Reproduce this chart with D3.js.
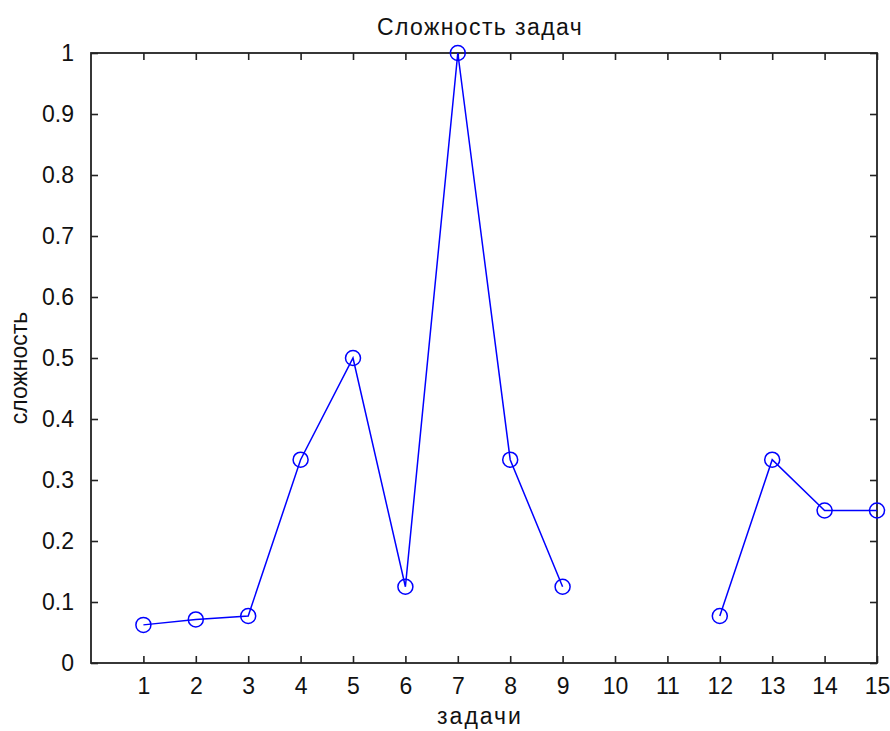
<!DOCTYPE html>
<meta charset='utf-8'>
<style>
  body { margin: 0; background: #fff; }
  text { font-family: 'Liberation Sans', Arial, sans-serif; fill: #111; }
</style>
<div id='chart'></div>
<script src='https://d3js.org/d3.v7.min.js'></script>
<script>

  // data (tasks 10 and 11 have no value)
  var tasks = [1, 2, 3, 4, 5, 6, 7, 8, 9, 10, 11, 12, 13, 14, 15];
  var difficulty = [0.0625, 0.0714, 0.077, 0.3333, 0.5, 0.125, 1, 0.3333, 0.125, null, null, 0.077, 0.3333, 0.25, 0.25];
  var yTicks = [0, 0.1, 0.2, 0.3, 0.4, 0.5, 0.6, 0.7, 0.8, 0.9, 1];
  var title = 'Сложность задач';
  var xLabel = 'задачи';
  var yLabel = 'сложность';

  var margin = {top: 53, right: 13, bottom: 68, left: 91},
      width = 890 - margin.left - margin.right,
      height = 731 - margin.top - margin.bottom;

  var svg = d3.select('#chart')
    .append('svg')
      .attr('width', 890)
      .attr('height', 731)
    .append('g')
      .attr('transform', 'translate(' + margin.left + ',' + margin.top + ')');

  var x = d3.scaleLinear().domain([0, 15]).range([0, width]);
  var y = d3.scaleLinear().domain([0, 1]).range([height, 0]);

  var fontSize = 23;
  var tickLen = 7;

  // axes box with inward ticks on all sides
  function styleAxis(g) {
    g.select('.domain').remove();
    g.selectAll('.tick line').attr('stroke', '#222').attr('stroke-width', 1.6);
    g.selectAll('.tick text').attr('font-size', fontSize).attr('font-family', 'Liberation Sans').attr('fill', '#111');
  }

  svg.append('g')
    .attr('transform', 'translate(0,' + height + ')')
    .call(d3.axisBottom(x).tickValues(tasks).tickSizeInner(-tickLen).tickSizeOuter(0).tickPadding(tickLen + 8))
    .call(styleAxis);
  svg.append('g')
    .call(d3.axisTop(x).tickValues(tasks).tickSizeInner(-tickLen).tickSizeOuter(0).tickFormat(''))
    .call(styleAxis);
  svg.append('g')
    .call(d3.axisLeft(y).tickValues(yTicks).tickSizeInner(-tickLen).tickSizeOuter(0).tickPadding(tickLen + 10)
      .tickFormat(function (d) { return d === 0 || d === 1 ? String(d) : d3.format('.1f')(d); }))
    .call(styleAxis);
  svg.append('g')
    .attr('transform', 'translate(' + width + ',0)')
    .call(d3.axisRight(y).tickValues(yTicks).tickSizeInner(-tickLen).tickSizeOuter(0).tickFormat(''))
    .call(styleAxis);

  svg.append('rect')
    .attr('x', 0).attr('y', 0)
    .attr('width', width).attr('height', height)
    .attr('fill', 'none')
    .attr('stroke', '#222')
    .attr('stroke-width', 1.8);

  var pts = tasks.map(function (t, i) { return {t: t, v: difficulty[i]}; });

  var line = d3.line()
    .defined(function (d) { return d.v !== null; })
    .x(function (d) { return x(d.t); })
    .y(function (d) { return y(d.v); });

  svg.append('path')
    .datum(pts)
    .attr('d', line)
    .attr('fill', 'none')
    .attr('stroke', '#0000ff')
    .attr('stroke-width', 1.5);

  svg.append('g')
    .selectAll('circle')
    .data(pts.filter(function (d) { return d.v !== null; }))
    .enter()
    .append('circle')
      .attr('cx', function (d) { return x(d.t); })
      .attr('cy', function (d) { return y(d.v); })
      .attr('r', 7.5)
      .attr('fill', 'none')
      .attr('stroke', '#0000ff')
      .attr('stroke-width', 1.5);

  svg.append('text')
    .attr('x', width / 2 - 4)
    .attr('y', -18)
    .attr('text-anchor', 'middle')
    .attr('font-size', fontSize)
    .attr('letter-spacing', 1.4)
    .text(title);

  svg.append('text')
    .attr('x', width / 2 - 4)
    .attr('y', height + 61)
    .attr('text-anchor', 'middle')
    .attr('font-size', fontSize)
    .attr('letter-spacing', 2)
    .text(xLabel);

  svg.append('text')
    .attr('transform', 'translate(' + (-64) + ',' + (height / 2 + 10) + ') rotate(-90)')
    .attr('text-anchor', 'middle')
    .attr('font-size', fontSize)
    .text(yLabel);

</script>
